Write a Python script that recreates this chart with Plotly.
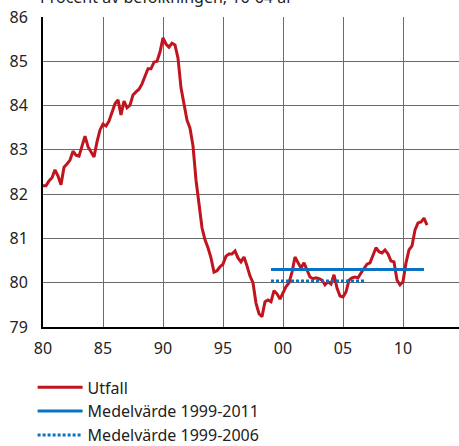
import numpy as np
import plotly.graph_objects as go

# Sysselsättningsgrad, kvartal 1980-2012
start_year = 1980
utfall = [82.19, 82.19, 82.30, 82.37, 82.55, 82.41, 82.21, 82.61, 82.68, 82.77,
          82.97, 82.88, 82.86, 83.11, 83.31, 83.07, 82.97, 82.84, 83.18, 83.45,
          83.58, 83.54, 83.65, 83.86, 84.04, 84.13, 83.79, 84.10, 83.95, 84.01,
          84.24, 84.31, 84.37, 84.49, 84.65, 84.83, 84.83, 84.98, 85.00, 85.21,
          85.53, 85.39, 85.32, 85.41, 85.37, 85.07, 84.40, 84.04, 83.67, 83.49,
          83.09, 82.32, 81.73, 81.24, 80.97, 80.79, 80.56, 80.24, 80.27, 80.36,
          80.42, 80.60, 80.65, 80.65, 80.72, 80.56, 80.47, 80.58, 80.38, 80.15,
          80.00, 79.54, 79.30, 79.23, 79.57, 79.61, 79.57, 79.82, 79.75, 79.63,
          79.77, 79.91, 80.00, 80.24, 80.58, 80.45, 80.33, 80.45, 80.29, 80.13,
          80.09, 80.11, 80.09, 80.06, 79.95, 80.02, 79.97, 80.18, 79.88, 79.70,
          79.68, 79.79, 80.06, 80.11, 80.13, 80.11, 80.22, 80.33, 80.42, 80.45,
          80.63, 80.79, 80.70, 80.67, 80.74, 80.65, 80.49, 80.47, 80.06, 79.95,
          80.02, 80.45, 80.74, 80.83, 81.19, 81.35, 81.37, 81.46, 81.30]
years = [start_year + i / 4 for i in range(len(utfall))]

mean_99_11_x = [1999.0, 2011.75]
mean_99_11 = [80.30, 80.30]
mean_99_06_x = [1999.0, 2006.9]
mean_99_06 = [80.04, 80.04]

tick_vals = [1980, 1985, 1990, 1995, 2000, 2005, 2010]
tick_text = ["80", "85", "90", "95", "00", "05", "10"]

red = "#c0141f"
blue = "#0a72c2"
font = "Noto Sans"

fig = go.Figure()
fig.add_trace(go.Scatter(x=years, y=utfall, mode="lines", name="Utfall",
                         line=dict(color=red, width=3)))
fig.add_trace(go.Scatter(x=mean_99_11_x, y=mean_99_11, mode="lines",
                         name="Medelvärde 1999-2011",
                         line=dict(color=blue, width=3)))
fig.add_trace(go.Scatter(x=mean_99_06_x, y=mean_99_06, mode="lines",
                         name="Medelvärde 1999-2006",
                         line=dict(color=blue, width=3, dash="3px,2px")))

fig.update_layout(
    width=459, height=446,
    margin=dict(l=43, r=0, t=17, b=119, autoexpand=False),
    plot_bgcolor="white", paper_bgcolor="white",
    font=dict(family=font, size=16, color="#222222"),
    showlegend=True,
    legend=dict(orientation="v", x=-0.025, y=-0.14,
                xanchor="left", yanchor="top",
                font=dict(size=16), itemwidth=45, tracegroupgap=0),
    annotations=[dict(text="Procent av befolkningen, 16-64 år",
                      xref="paper", yref="paper", x=0, y=1,
                      xanchor="left", yanchor="bottom", xshift=-5,
                      yshift=7, showarrow=False,
                      font=dict(size=16, color="#222222"))],
)
fig.update_xaxes(range=[1980, 1980 + 416 / 12], tickvals=tick_vals,
                 ticktext=tick_text, showgrid=True, gridcolor="#6b6b6b",
                 gridwidth=1, showline=True, linecolor="black", linewidth=2,
                 ticks="", zeroline=False, ticklabelstandoff=6)
fig.update_yaxes(range=[79, 86], dtick=1, showgrid=True, gridcolor="#6b6b6b",
                 gridwidth=1, showline=True, linecolor="black", linewidth=2,
                 ticks="", zeroline=False, ticklabelstandoff=10)

# drop the default page margin so the figure sits at the window corner
fig.write_html("out.html", config={"displayModeBar": False},
               post_script="document.body.style.margin='0';")
